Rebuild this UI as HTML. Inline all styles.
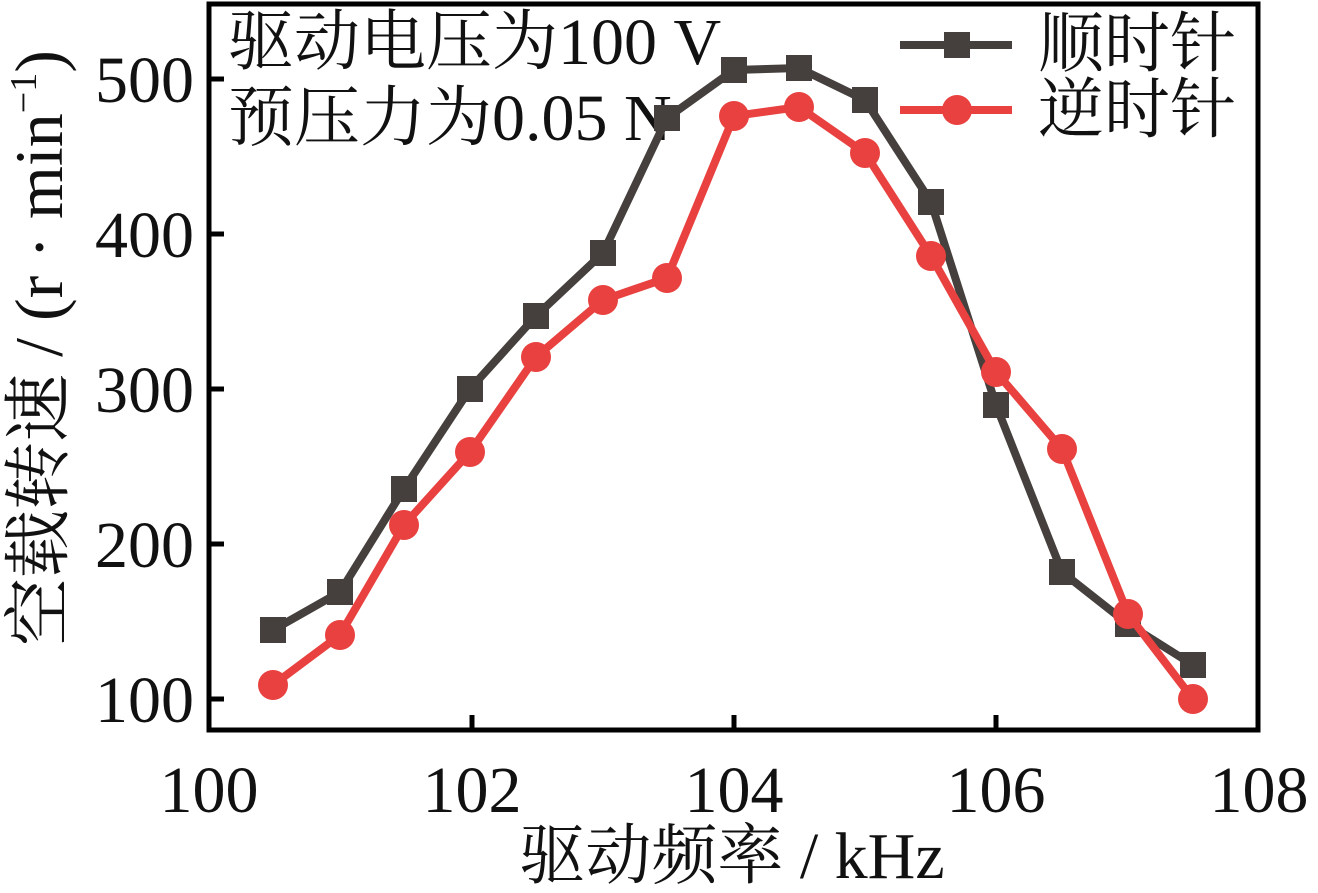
<!DOCTYPE html>
<html><head><meta charset="utf-8"><style>body{margin:0;background:#fff}</style></head><body>
<svg width="1318" height="888" xmlns="http://www.w3.org/2000/svg" font-family="'Liberation Serif','Noto Serif CJK SC',serif">
<rect x="0" y="0" width="1318" height="888" fill="#fff"/>
<g stroke="#000" stroke-width="5" fill="none">
<rect x="209" y="4" width="1049" height="726"/>
<path d="M209 79h15M209 234h15M209 389h15M209 544h15M209 699h15M472 730v-15M734 730v-15M996 730v-15"/>
</g>
<g font-size="66" text-anchor="end" fill="#111">
<text x="194" y="102">500</text><text x="194" y="257">400</text><text x="194" y="412">300</text><text x="194" y="567">200</text><text x="194" y="722">100</text>
</g>
<g font-size="66" text-anchor="middle" fill="#111">
<text x="209" y="812">100</text><text x="472" y="812">102</text><text x="734" y="812">104</text><text x="996" y="812">106</text><text x="1259" y="812">108</text>
<text x="732" y="878" font-size="66">驱动频率 / kHz</text>
<text transform="translate(62,348) rotate(-90)" font-size="68">空载转速 / (r · min<tspan font-size="38" dy="-26">−1</tspan><tspan dy="26">)</tspan></text>
</g>
<g font-size="66" fill="#111">
<text x="228" y="64">驱动电压为100 V</text>
<text x="228" y="140">预压力为0.05 N</text>
<text x="1038" y="66">顺时针</text>
<text x="1038" y="132">逆时针</text>
</g>
<g stroke="#45403d" stroke-width="8" fill="#45403d">
<line x1="900" y1="45" x2="1012" y2="45"/>
<rect x="944" y="32" width="26" height="26" stroke="none"/>
<polyline fill="none" points="273,630 340,592 404,489 470,389 536,316 603,253 667,118 734,70 799,68 865,100 931,202 996,405 1062,572 1128,624 1193,665"/>
<g stroke="none">
<rect x="260" y="617" width="26" height="26"/><rect x="327" y="579" width="26" height="26"/><rect x="391" y="476" width="26" height="26"/><rect x="457" y="376" width="26" height="26"/><rect x="523" y="303" width="26" height="26"/><rect x="590" y="240" width="26" height="26"/><rect x="654" y="105" width="26" height="26"/><rect x="721" y="57" width="26" height="26"/><rect x="786" y="55" width="26" height="26"/><rect x="852" y="87" width="26" height="26"/><rect x="918" y="189" width="26" height="26"/><rect x="983" y="392" width="26" height="26"/><rect x="1049" y="559" width="26" height="26"/><rect x="1115" y="611" width="26" height="26"/><rect x="1180" y="652" width="26" height="26"/>
</g></g>
<g stroke="#e8413f" stroke-width="8" fill="#e8413f">
<line x1="900" y1="110" x2="1012" y2="110"/>
<circle cx="957" cy="110" r="15" stroke="none"/>
<polyline fill="none" points="273,685 340,635 404,525 470,452 536,357 603,300 667,278 734,116 799,107 865,153 931,256 996,372 1062,449 1128,614 1193,699"/>
<g stroke="none">
<circle cx="273" cy="685" r="15"/><circle cx="340" cy="635" r="15"/><circle cx="404" cy="525" r="15"/><circle cx="470" cy="452" r="15"/><circle cx="536" cy="357" r="15"/><circle cx="603" cy="300" r="15"/><circle cx="667" cy="278" r="15"/><circle cx="734" cy="116" r="15"/><circle cx="799" cy="107" r="15"/><circle cx="865" cy="153" r="15"/><circle cx="931" cy="256" r="15"/><circle cx="996" cy="372" r="15"/><circle cx="1062" cy="449" r="15"/><circle cx="1128" cy="614" r="15"/><circle cx="1193" cy="699" r="15"/>
</g></g>
</svg>
</body></html>
